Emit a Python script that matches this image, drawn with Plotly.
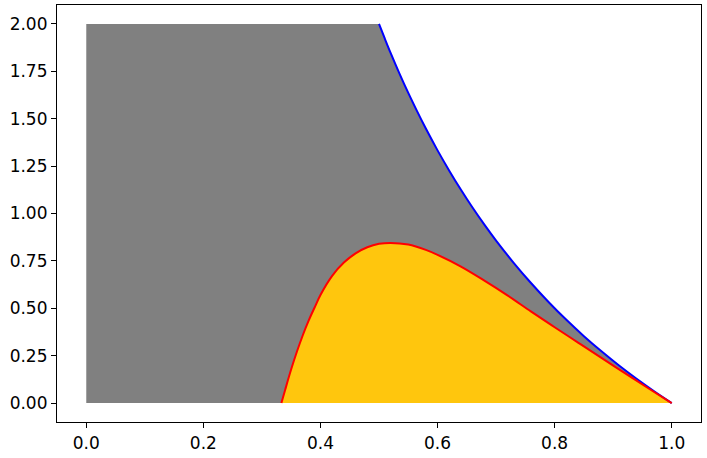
import plotly.graph_objects as go

# Upper boundary (blue curve)
blue_x = [0.5, 0.51, 0.52, 0.535, 0.55, 0.565, 0.58, 0.6, 0.62, 0.64, 0.66, 0.68, 0.7, 0.73, 0.76, 0.79, 0.82, 0.85, 0.88, 0.91, 0.94, 0.97, 1.0]
blue_y = [2.0, 1.922, 1.846, 1.738, 1.636, 1.540, 1.448, 1.333, 1.226, 1.125, 1.030, 0.941, 0.857, 0.740, 0.632, 0.532, 0.439, 0.353, 0.273, 0.198, 0.128, 0.062, 0.0]

# Red curve
red_x = [0.3333, 0.34, 0.35, 0.36, 0.37, 0.38, 0.39, 0.40, 0.42, 0.44, 0.46, 0.48, 0.50, 0.52, 0.55, 0.58, 0.60, 0.64, 0.68, 0.72, 0.76, 0.80, 0.84, 0.88, 0.92, 0.96, 1.0]
red_y = [0.0, 0.073, 0.178, 0.273, 0.359, 0.436, 0.504, 0.570, 0.671, 0.741, 0.790, 0.822, 0.840, 0.845, 0.836, 0.808, 0.782, 0.720, 0.646, 0.567, 0.482, 0.400, 0.319, 0.238, 0.158, 0.078, 0.0]

# Flat top of the grey region
top_x = [0.0, 0.5]
top_y = [2.0, 2.0]

GREY = "#808080"
GOLD = "#ffc60d"

fig = go.Figure()
fig.add_trace(go.Scatter(x=top_x, y=top_y, mode="lines", fill="tozeroy",
                         fillcolor=GREY, line=dict(width=0, color=GREY), hoverinfo="skip"))
fig.add_trace(go.Scatter(x=blue_x, y=blue_y, mode="lines", fill="tozeroy",
                         fillcolor=GREY, line=dict(width=0, color=GREY, shape="spline"), hoverinfo="skip"))
fig.add_trace(go.Scatter(x=red_x, y=red_y, mode="lines", fill="tozeroy",
                         fillcolor=GOLD, line=dict(width=0, color=GOLD, shape="spline"), hoverinfo="skip"))
fig.add_trace(go.Scatter(x=blue_x, y=blue_y, mode="lines",
                         line=dict(width=2, color="blue", shape="spline")))
fig.add_trace(go.Scatter(x=red_x, y=red_y, mode="lines",
                         line=dict(width=2, color="red", shape="spline")))

axis_common = dict(showgrid=False, zeroline=False, showline=True, mirror=True,
                   linecolor="black", linewidth=1.2, ticks="outside", ticklen=5,
                   tickwidth=1.2, tickcolor="black",
                   tickfont=dict(family="DejaVu Sans", size=17, color="black"))

fig.update_layout(
    width=707, height=458,
    margin=dict(l=57, r=6, t=5, b=36),
    plot_bgcolor="white", paper_bgcolor="white",
    showlegend=False,
    xaxis=dict(range=[-0.05, 1.05], tickvals=[0, 0.2, 0.4, 0.6, 0.8, 1.0],
               ticktext=["0.0", "0.2", "0.4", "0.6", "0.8", "1.0"], **axis_common),
    yaxis=dict(range=[-0.1, 2.1], tickvals=[0, 0.25, 0.5, 0.75, 1.0, 1.25, 1.5, 1.75, 2.0],
               ticktext=["0.00", "0.25", "0.50", "0.75", "1.00", "1.25", "1.50", "1.75", "2.00"],
               **axis_common),
)

fig.write_html("out.html", config={"displayModeBar": False},
               post_script="document.body.style.margin='0';")
